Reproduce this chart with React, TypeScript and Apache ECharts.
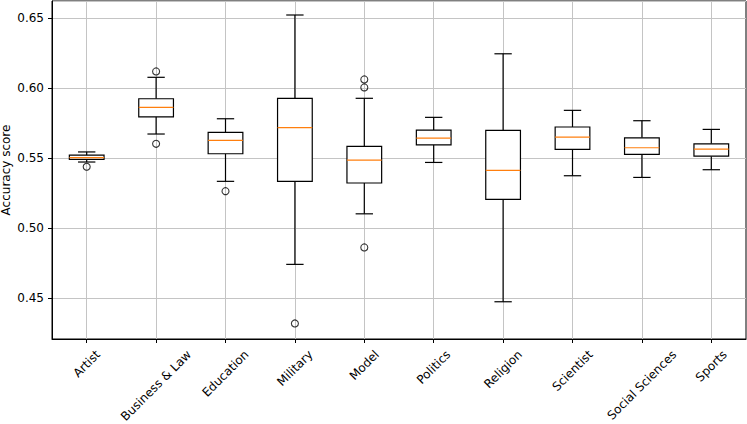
import { useEffect, useRef } from "react";
import * as echarts from "echarts";

const categories = [
  "Artist",
  "Business & Law",
  "Education",
  "Military",
  "Model",
  "Politics",
  "Religion",
  "Scientist",
  "Social Sciences",
  "Sports",
];
const whiskerLow = [0.5474, 0.5674, 0.5336, 0.4743, 0.5104, 0.5471, 0.4476, 0.5376, 0.5364, 0.5419];
const q1 = [0.5493, 0.5797, 0.5533, 0.5336, 0.5324, 0.5597, 0.5207, 0.5564, 0.5529, 0.5516];
const median = [0.5506, 0.5864, 0.5629, 0.5719, 0.5488, 0.5645, 0.5414, 0.5652, 0.5576, 0.5566];
const q3 = [0.5523, 0.5926, 0.5686, 0.5929, 0.5586, 0.5702, 0.57, 0.5724, 0.5647, 0.5604];
const whiskerHigh = [0.5546, 0.6079, 0.5783, 0.6524, 0.5929, 0.5793, 0.6247, 0.5843, 0.5769, 0.5707];
const outliers: [number, number][] = [
  [0, 0.544],
  [1, 0.6121],
  [1, 0.5604],
  [2, 0.5266],
  [3, 0.4321],
  [4, 0.6064],
  [4, 0.6007],
  [4, 0.4864],
];
const yMin = 0.421;
const yMax = 0.6624;
const yLabel = "Accuracy score";

const FONT = '"DejaVu Sans", sans-serif';

export default function App() {
  const ref = useRef<HTMLDivElement>(null);
  useEffect(() => {
    if (!ref.current) return;
    const chart = echarts.init(ref.current, undefined, { renderer: "svg" });

    const ctx = document.createElement("canvas").getContext("2d")!;
    ctx.font = '12px "DejaVu Sans"';
    const lineH = 14;
    const rich: any = {};
    categories.forEach((c, i) => {
      const L = ctx.measureText(c).width;
      const D = 8.5 + (L + lineH) / (2 * Math.SQRT2);
      const p = Math.SQRT2 * D;
      rich["c" + i] = {
        color: "#000",
        fontSize: 12,
        fontFamily: FONT,
        lineHeight: lineH,
        padding: [p, p, 0, 0],
      };
    });

    const boxData = categories.map((_, i) => [i, whiskerLow[i], q1[i], median[i], q3[i], whiskerHigh[i]]);

    const option: any = {
      animation: false,
      textStyle: { fontFamily: FONT },
      grid: {
        left: 52,
        right: 1,
        top: 1,
        bottom: 85,
        containLabel: false,
        outerBoundsMode: "none",
        show: true,
        borderColor: "#000",
        borderWidth: 1,
        backgroundColor: "transparent",
      },
      xAxis: {
        type: "category",
        data: categories,
        boundaryGap: true,
        axisLine: { show: true, lineStyle: { color: "#000", width: 1 } },
        axisTick: { show: true, alignWithLabel: true, length: 4, lineStyle: { color: "#000" } },
        axisLabel: {
          interval: 0,
          rotate: 45,
          margin: 0,
          align: "center",
          verticalAlign: "middle",
          hideOverlap: false,
          color: "#000",
          fontSize: 12,
          fontFamily: FONT,
          formatter: (v: string) => "{c" + categories.indexOf(v) + "|" + v + "}",
          rich,
        },
        splitLine: { show: true, alignWithLabel: true, lineStyle: { color: "#c4c4c4", width: 1 } },
      },
      yAxis: {
        type: "value",
        min: yMin,
        max: yMax,
        splitNumber: 5,
        name: yLabel,
        nameLocation: "middle",
        nameGap: 40,
        nameMoveOverlap: false,
        nameTextStyle: { color: "#000", fontSize: 12, fontFamily: FONT },
        axisLine: { show: true, lineStyle: { color: "#000", width: 1 } },
        axisTick: { show: true, length: 4, lineStyle: { color: "#000" } },
        axisLabel: {
          showMinLabel: false,
          showMaxLabel: false,
          margin: 8,
          color: "#000",
          fontSize: 12,
          fontFamily: FONT,
          formatter: (v: number) => v.toFixed(2),
        },
        splitLine: { show: true, lineStyle: { color: "#c4c4c4", width: 1 } },
      },
      series: [
        {
          type: "custom",
          data: boxData,
          encode: { x: 0, y: [1, 2, 3, 4, 5] },
          z: 3,
          renderItem: (params: any, api: any) => {
            const i = api.value(0);
            const band = api.size([1, 0])[0];
            const half = band * 0.25;
            const capHalf = band * 0.125;
            const pLo = api.coord([i, api.value(1)]);
            const pQ1 = api.coord([i, api.value(2)]);
            const pMed = api.coord([i, api.value(3)]);
            const pQ3 = api.coord([i, api.value(4)]);
            const pHi = api.coord([i, api.value(5)]);
            const x = pLo[0];
            const ls = { stroke: "#000", lineWidth: 1.2, fill: null };
            return {
              type: "group",
              children: [
                { type: "line", shape: { x1: x, y1: pLo[1], x2: x, y2: pQ1[1] }, style: ls },
                { type: "line", shape: { x1: x, y1: pQ3[1], x2: x, y2: pHi[1] }, style: ls },
                { type: "line", shape: { x1: x - capHalf, y1: pLo[1], x2: x + capHalf, y2: pLo[1] }, style: ls },
                { type: "line", shape: { x1: x - capHalf, y1: pHi[1], x2: x + capHalf, y2: pHi[1] }, style: ls },
                {
                  type: "rect",
                  shape: { x: x - half, y: pQ3[1], width: 2 * half, height: pQ1[1] - pQ3[1] },
                  style: { fill: "#fff", stroke: "#000", lineWidth: 1.2 },
                },
                {
                  type: "line",
                  shape: { x1: x - half, y1: pMed[1], x2: x + half, y2: pMed[1] },
                  style: { stroke: "#ff7f0e", lineWidth: 1.2 },
                },
              ],
            };
          },
        },
        {
          type: "scatter",
          data: outliers,
          symbol: "circle",
          symbolSize: 7,
          z: 4,
          itemStyle: { color: "rgba(0,0,0,0)", borderColor: "#000", borderWidth: 1.1 },
        },
      ],
    };
    chart.setOption(option);
    return () => chart.dispose();
  }, []);
  return (
    <div
      ref={ref}
      style={{ position: "fixed", left: 0, top: 0, width: 747, height: 424, background: "#fff" }}
    />
  );
}
